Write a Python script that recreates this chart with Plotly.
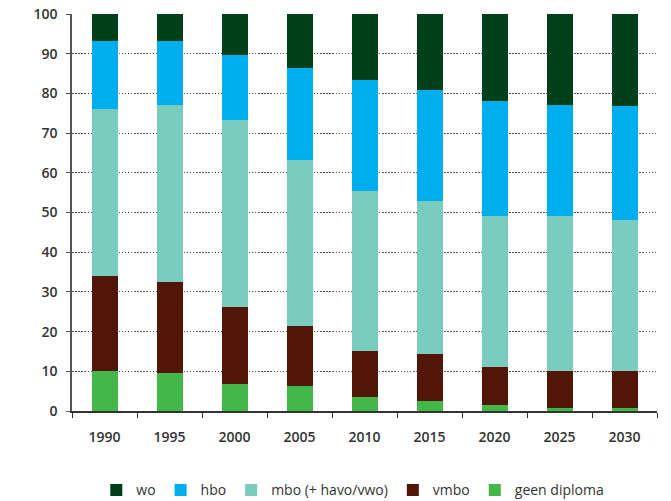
import plotly.graph_objects as go

years = ["1990", "1995", "2000", "2005", "2010", "2015", "2020", "2025", "2030"]
geen_diploma = [10.2, 9.6, 6.7, 6.3, 3.6, 2.6, 1.5, 0.8, 0.8]
vmbo = [23.8, 22.8, 19.4, 15.2, 11.4, 11.8, 9.5, 9.2, 9.2]
mbo = [42.1, 44.8, 47.3, 41.8, 40.5, 38.4, 38.2, 39.0, 38.2]
hbo = [17.0, 15.9, 16.4, 23.1, 27.9, 28.1, 28.8, 28.2, 28.6]
wo = [6.9, 6.9, 10.2, 13.6, 16.6, 19.1, 22.0, 22.8, 23.2]
y_ticks = [0, 10, 20, 30, 40, 50, 60, 70, 80, 90, 100]

series = [
    ("geen diploma", geen_diploma, "#44B74A"),
    ("vmbo", vmbo, "#521608"),
    ("mbo (+ havo/vwo)", mbo, "#7ACCBE"),
    ("hbo", hbo, "#00AEEF"),
    ("wo", wo, "#02401B"),
]

fig = go.Figure()
for name, vals, col in series:
    fig.add_trace(go.Bar(x=years, y=vals, name=name, marker_color=col,
                         marker_line_width=0))

font_family = "Open Sans, Lato, sans-serif"
fig.update_layout(
    barmode="stack",
    bargap=0.6,
    width=671, height=501,
    margin=dict(l=72, r=14, t=14, b=90, autoexpand=False),
    plot_bgcolor="white", paper_bgcolor="white",
    font=dict(family=font_family, size=14, color="#333333"),
    legend=dict(orientation="h", traceorder="reversed", x=0.48, xanchor="center",
                y=-0.2, yanchor="middle", font=dict(size=14, color="#333333"),
                itemwidth=30, tracegroupgap=0),
    xaxis=dict(showline=True, linecolor="#333333", linewidth=1.5,
               ticks="outside", ticklen=5, tickcolor="#333333", tickson="boundaries",
               ticklabelstandoff=12, automargin=False,
               tickfont=dict(size=14, weight=600, color="#333333"),
               showgrid=False),
    yaxis=dict(range=[0, 100.01], tickvals=y_ticks, showline=True, linecolor="#555555",
               linewidth=1.5, ticks="outside", ticklen=4, tickcolor="#555555",
               showgrid=True, gridcolor="#555555", griddash="1.5px,1.6px", gridwidth=1,
               tickfont=dict(size=14, weight=600, color="#333333"),
               ticklabeloverflow="allow",
               ticklabelstandoff=6, zeroline=False, automargin=False),
)
fig.write_html("out.html", config={"displayModeBar": False},
               post_script="document.body.style.margin='0px';")
